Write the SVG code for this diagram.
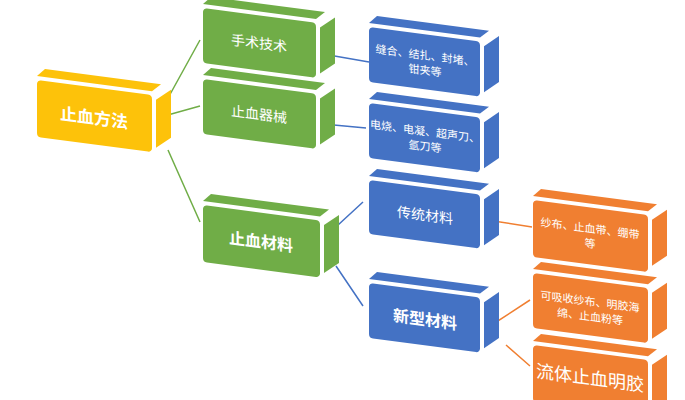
<svg xmlns="http://www.w3.org/2000/svg" width="685" height="400" viewBox="0 0 685 400">
<style>
text{font-family:"Noto Sans CJK SC","Liberation Sans",sans-serif;fill:#fff;text-anchor:middle;dominant-baseline:central}
.y{fill:#FDC20A}.g{fill:#70AD47}.b{fill:#4472C4}.o{fill:#F07F31}
.s{font-size:11px}.m{font-size:14px}.l{font-size:17px;font-weight:bold}
.cg{stroke:#70AD47;stroke-width:1.5;fill:none}.cb{stroke:#4472C4;stroke-width:1.5;fill:none}.co{stroke:#F07F31;stroke-width:1.5;fill:none}
</style>
<rect width="685" height="400" fill="#fff"/>
<g id="connectors">
<path class="cg" d="M157 118 L200 40 M157 118 L200 106 M168 150 L200 222"/>
<path class="cb" d="M323 54 L369 62 M323 124 L366 128 M325 237 L363 202 M336 266 L363 306"/>
<path class="co" d="M487 220 L532 227 M487 328 L530 300 M506 345 L530 366"/>
</g>
<g id="n1" transform="translate(37,80) skewY(7.5)" class="y"><polygon points="8,-12 124,-12 115,-4 0,-4"/><polygon points="119,4 134,-8 134,40 119,52"/><rect width="115" height="57" rx="4"/><text x="57" y="29" class="l">止血方法</text></g>
<g id="n2" transform="translate(203,8) skewY(7.5)" class="g"><polygon points="8,-12 122,-12 113,-4 0,-4"/><polygon points="117,4 132,-8 132,38 117,50"/><rect width="113" height="55" rx="4"/><text x="56" y="27" class="m">手术技术</text></g>
<g id="n3" transform="translate(203,79) skewY(7.5)" class="g"><polygon points="8,-12 122,-12 113,-4 0,-4"/><polygon points="117,4 132,-8 132,38 117,50"/><rect width="113" height="55" rx="4"/><text x="56" y="27" class="m">止血器械</text></g>
<g id="n4" transform="translate(203,205) skewY(7.5)" class="g"><polygon points="8,-12 126,-12 117,-4 0,-4"/><polygon points="121,4 136,-8 136,40 121,52"/><rect width="117" height="57" rx="4"/><text x="58" y="28" class="l" style="font-size:16px">止血材料</text></g>
<g id="n5" transform="translate(369,27) skewY(7.5)" class="b"><polygon points="8,-12 120,-12 111,-4 0,-4"/><polygon points="115,4 130,-8 130,38 115,50"/><rect width="111" height="55" rx="4"/><text x="56" y="20" class="s">缝合、结扎、封堵、</text><text x="56" y="35" class="s">钳夹等</text></g>
<g id="n6" transform="translate(369,103) skewY(7.5)" class="b"><polygon points="8,-12 120,-12 111,-4 0,-4"/><polygon points="115,4 130,-8 130,38 115,50"/><rect width="111" height="55" rx="4"/><text x="56" y="20" class="s">电烧、电凝、超声刀、</text><text x="56" y="35" class="s">氩刀等</text></g>
<g id="n7" transform="translate(369,180) skewY(7.5)" class="b"><polygon points="8,-12 120,-12 111,-4 0,-4"/><polygon points="115,4 130,-8 130,38 115,50"/><rect width="111" height="54" rx="4"/><text x="56" y="27" class="m">传统材料</text></g>
<g id="n8" transform="translate(369,283) skewY(7.5)" class="b"><polygon points="8,-12 120,-12 111,-4 0,-4"/><polygon points="115,4 130,-8 130,38 115,50"/><rect width="111" height="55" rx="4"/><text x="56" y="28" class="l" style="font-size:16px">新型材料</text></g>
<g id="n9" transform="translate(533,200) skewY(7.5)" class="o"><polygon points="8,-12 124,-12 115,-4 0,-4"/><polygon points="119,4 134,-8 134,38 119,50"/><rect width="115" height="57" rx="4"/><text x="57" y="20" class="s">纱布、止血带、绷带</text><text x="57" y="35" class="s">等</text></g>
<g id="n10" transform="translate(533,273) skewY(7.5)" class="o"><polygon points="8,-12 124,-12 115,-4 0,-4"/><polygon points="119,4 134,-8 134,38 119,50"/><rect width="115" height="55" rx="4"/><text x="57" y="20" class="s">可吸收纱布、明胶海</text><text x="57" y="35" class="s">绵、止血粉等</text></g>
<g id="n11" transform="translate(533,345) skewY(7.5)" class="o"><polygon points="8,-12 124,-12 115,-4 0,-4"/><polygon points="119,4 134,-8 134,38 119,50"/><rect width="115" height="57" rx="4"/><text x="57" y="24" class="l" style="font-weight:normal;font-size:18px">流体止血明胶</text></g>
</svg>
